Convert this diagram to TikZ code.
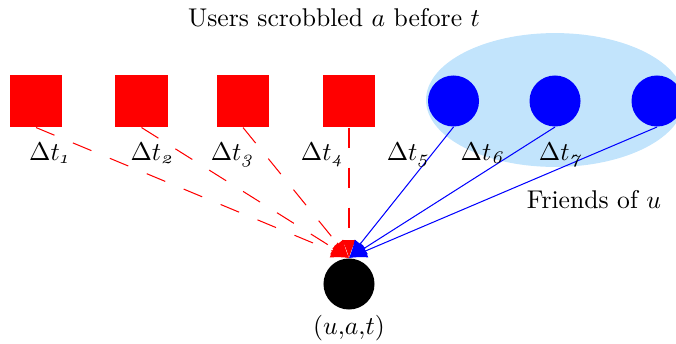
\documentclass[tikz,border=0pt]{standalone}
\usepackage{fontspec}
\newfontfamily\osfit[Numbers=OldStyle]{Latin Modern Roman}
\usetikzlibrary{arrows.meta}
\definecolor{skyfill}{RGB}{194,228,252}
\newcommand{\dtl}[1]{$\Delta t_{\mbox{\scriptsize\osfit\itshape #1}}$}
\begin{document}
\begin{tikzpicture}[x=0.39pt,y=-0.39pt,
  sq/.style={fill=red, minimum size=20.3pt, inner sep=0pt},
  fr/.style={circle, fill=blue, minimum size=19.9pt, inner sep=0pt},
  usr/.style={circle, fill=black, minimum size=19.9pt, inner sep=0pt},
  tipstyle/.style={-{Latex[length=7pt,width=5.5pt]}},
  redln/.style={draw=red, dash pattern=on 7.8pt off 7.8pt, tipstyle},
  blueln/.style={draw=blue, tipstyle},
  lbl/.style={anchor=base, inner sep=0pt}]
\useasboundingbox (0,0) rectangle (676,343);
\fill[skyfill] (555,100) ellipse [x radius=50.3pt, y radius=26.1pt];
\node[sq] (s1) at (36,101) {};
\node[sq] (s2) at (141.5,101) {};
\node[sq] (s3) at (243,101) {};
\node[sq] (s4) at (349,101) {};
\node[fr] (f1) at (453.5,101) {};
\node[fr] (f2) at (555,101) {};
\node[fr] (f3) at (657,101) {};
\node[usr] (u) at (349,284) {};
\foreach \s in {s1,s2,s3,s4} \draw[redln] (\s.south) -- (u.north);
\foreach \f in {f1,f2,f3} \draw[blueln] (\f.south) -- (u.north);
\node[lbl] (l1) at (49,160) {\dtl{1}};
\node[lbl] (l2) at (152,160) {\dtl{2}};
\node[lbl] (l3) at (232,160) {\dtl{3}};
\node[lbl] (l4) at (322,160) {\dtl{4}};
\node[lbl] (l5) at (408,160) {\dtl{5}};
\node[lbl] (l6) at (482,160) {\dtl{6}};
\node[lbl] (l7) at (560,160) {\dtl{7}};
\node[lbl] (title) at (334,26) {Users scrobbled $a$ before $t$};
\node[lbl] (friends) at (594,208) {Friends of $u$};
\node[lbl] (ulabel) at (349,334) {$(u{,}a{,}t)$};
\end{tikzpicture}
\end{document}
